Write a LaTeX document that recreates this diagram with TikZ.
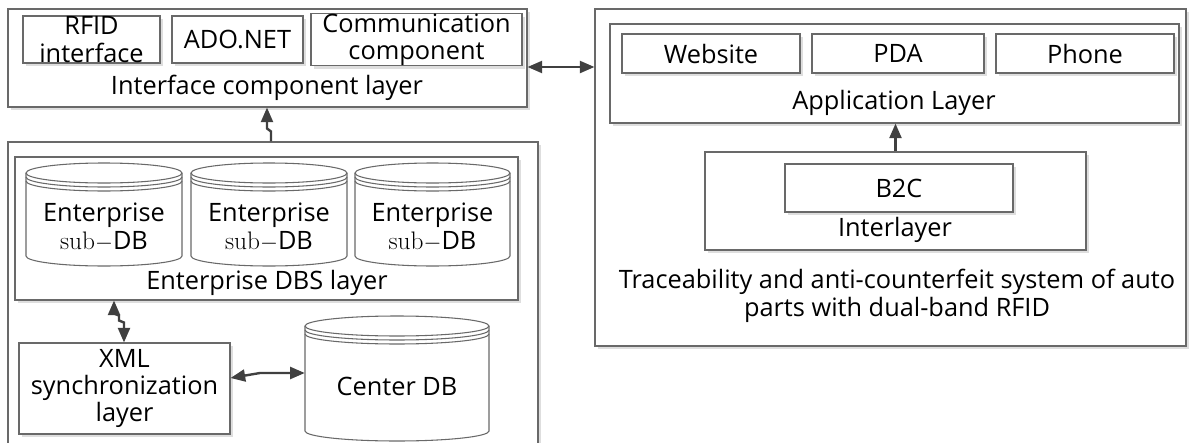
\documentclass[tikz,border=0pt]{standalone}
\usepackage{fontspec}
\newfontfamily\diagfont{Open Sans}
\usetikzlibrary{arrows.meta,fit,shadows}

\definecolor{edge}{RGB}{105,105,105}
\definecolor{arrowgray}{RGB}{64,64,64}

\tikzset{
  txt/.style={font=\diagfont\fontsize{19}{20.5}\selectfont, align=center, inner sep=0pt},
  layerbox/.style={draw=edge, line width=0.8pt, fill=white, inner sep=0pt,
    drop shadow={shadow xshift=2.5pt, shadow yshift=-2.5pt, fill=black!13, opacity=1}},
  itembox/.style={layerbox, txt},
  sized/.style 2 args={minimum width={#1*0.75pt}, minimum height={#2*0.75pt}},
  link/.style={draw=arrowgray, line width=1.8pt,
    {Triangle[length=11pt,width=9pt]}-{Triangle[length=11pt,width=9pt]}},
  uplink/.style={draw=arrowgray, line width=1.8pt, -{Triangle[length=11pt,width=9pt]}},
}

% cylinder: name, left, top, right, bottom, text y, text
\newcommand{\dbcyl}[7]{%
  \filldraw[draw=edge, line width=0.8pt, fill=white]
    (#2,-#3-10) -- (#2,-#5+10) arc[start angle=180, end angle=360, x radius={(#4-#2)/2}, y radius=10]
    -- (#4,-#3-10) arc[start angle=0, end angle=180, x radius={(#4-#2)/2}, y radius=10] -- cycle;
  \foreach \d in {0,4,8}
    \draw[edge, line width=0.8pt] (#2,-#3-10-\d) arc[start angle=180, end angle=360, x radius={(#4-#2)/2}, y radius=10];
  \node[txt, minimum width={(#4-#2)*0.75pt}] (#1) at ({(#2+#4)/2},-#6) {#7};
}

\begin{document}
\begin{tikzpicture}[x=0.75pt,y=0.75pt]
  \path[use as bounding box, clip] (0,0) rectangle (1190,-443);
  \fill[white] (0,0) rectangle (1190,-443);

  % left column
  \node[layerbox, fit={(8,-9) (527,-107)}] (iface) {};
  \node[itembox, sized={137}{47}] (rfid) at (91.5,-39.5) {RFID\\interface};
  \node[itembox, sized={131}{47}] (adonet) at (237.5,-39.5) {ADO.NET};
  \node[itembox, sized={211}{47}] (comm) at (416.5,-39.5) {Communication\\component};
  \node[txt] (ifacelbl) at (267,-88) {Interface component layer};

  \node[layerbox, fit={(8,-142) (538,-470)}] (ent) {};
  \node[layerbox, fit={(15,-157) (518,-300)}] (dbs) {};
  \dbcyl{sub1}{26}{163}{182}{266}{227}{Enterprise\\{\rmfamily sub$-$}DB}
  \dbcyl{sub2}{191}{163}{347}{266}{227}{Enterprise\\{\rmfamily sub$-$}DB}
  \dbcyl{sub3}{355}{163}{510}{266}{227}{Enterprise\\{\rmfamily sub$-$}DB}
  \node[txt] (dbslbl) at (267,-283) {Enterprise DBS layer};

  \node[itembox, sized={211}{91}] (xml) at (124.5,-388.5) {XML\\synchronization\\layer};
  \dbcyl{cdb}{305}{316}{489}{441}{386}{Center DB}

  % right column
  \node[layerbox, fit={(595,-9) (1186,-346)}] (sys) {};
  \node[layerbox, fit={(610,-24) (1179,-123)}] (app) {};
  \node[itembox, sized={178}{39}] (web) at (711,-53.5) {Website};
  \node[itembox, sized={172}{39}] (pda) at (898,-53.5) {PDA};
  \node[itembox, sized={178}{39}] (phone) at (1085,-53.5) {Phone};
  \node[txt] (applbl) at (894,-103) {Application Layer};

  \node[layerbox, fit={(705,-152) (1086,-250)}] (inter) {};
  \node[itembox, sized={228}{48}] (b2c) at (899,-188) {B2C};
  \node[txt] (interlbl) at (895,-230) {Interlayer};
  \node[txt] (syslbl) at (897,-296) {Traceability and anti-counterfeit system of auto\\parts with dual-band RFID};

  % connectors
  \draw[uplink] (ent.north -| 271,0) -- ++(0,10) -- ++(-4,3) -- (iface.south -| 267,0);
  \draw[link] (iface.east |- 0,-67) -- (sys.west |- 0,-67);
  \draw[link] (dbs.south -| 114,0) -- ++(0,-13) -- ++(5,-2) -- ++(0,-5) -- ++(5,-2) -- (xml.north -| 124,0);
  \draw[link] (xml.east |- 0,-378) -- (260,-373) -- (cdb.west |- 0,-373);
  \draw[uplink] (inter.north) -- (app.south -| inter.north);
\end{tikzpicture}
\end{document}
